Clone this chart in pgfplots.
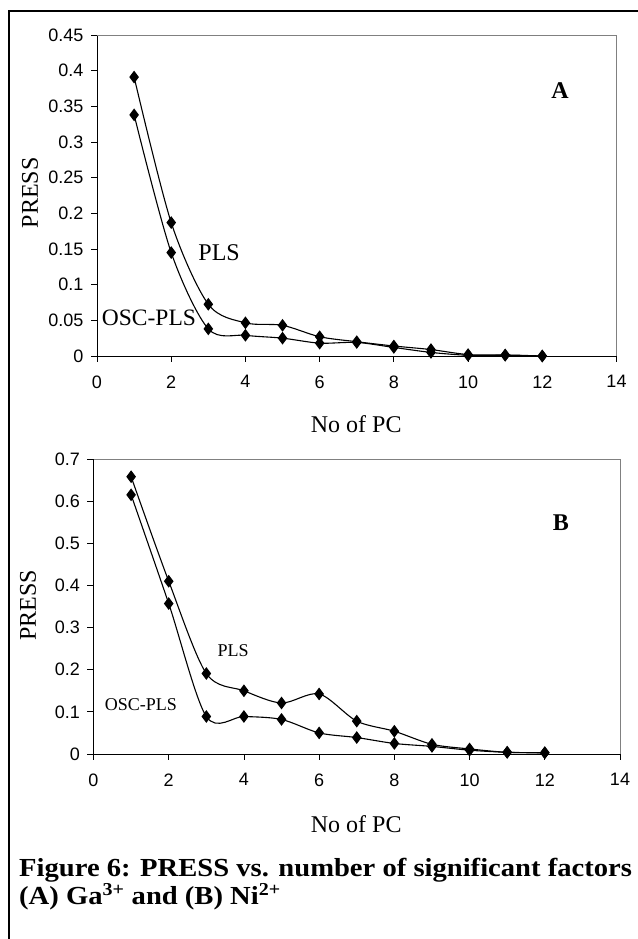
\documentclass[border=0pt]{standalone}
\usepackage{pgfplots}
\pgfplotsset{compat=1.18}
\usepackage{fontspec}
\setmainfont{Liberation Serif}
\newfontfamily\arial{Liberation Sans}
\begin{document}
\begin{tikzpicture}
\path[use as bounding box] (0,0) rectangle (637pt,939pt);
\draw[line width=2pt] (9pt,-2pt) -- (9pt,928pt) -- (640pt,928pt);
\pgfplotsset{
  myaxis/.style={
    scale only axis,
    axis x line*=bottom, axis y line*=left,
    axis line style={black, line width=0.8pt},
    tick align=outside, major tick length=6pt,
    tick style={black, line width=0.8pt},
    xmin=0, xmax=14,
    xtick={0,2,4,6,8,10,12,14},
    xticklabels={0,2,4,6,8,10,12,14},
    ticklabel style={font=\arial\fontsize{18}{18}\selectfont},
    xticklabel style={yshift=-10pt},
    yticklabel style={xshift=-4pt},
    label style={font=\fontsize{24}{24}\selectfont},
    clip=false,
  },
  myplot/.style={black, line width=1.1pt, smooth, tension=0.5, mark=diamond*, mark size=5.5pt, mark options={solid, fill=black}},
}
% ---------- Panel A ----------
\begin{axis}[myaxis,
  at={(97pt,583pt)}, anchor=south west,
  width=519.5pt, height=321pt,
  ymin=0, ymax=0.45,
  ytick={0,0.05,0.1,0.15,0.2,0.25,0.3,0.35,0.4,0.45},
  yticklabels={0,0.05,0.1,0.15,0.2,0.25,0.3,0.35,0.4,0.45},
  xlabel={No of PC}, ylabel={PRESS},
  xlabel style={at={(axis description cs:0.499,-0.212)}, anchor=center},
  ylabel style={at={(axis description cs:-0.129,0.508)}, anchor=center, rotate=0},
]
\draw[gray, line width=0.8pt] (rel axis cs:0,1) -- (rel axis cs:1,1) -- (rel axis cs:1,0);
\addplot[myplot] coordinates {(1,0.391) (2,0.187) (3,0.0725) (4,0.0465) (5,0.043) (6,0.027) (7,0.020) (8,0.014) (9,0.009) (10,0.002) (11,0.0015) (12,0)};
\addplot[myplot] coordinates {(1,0.338) (2,0.145) (3,0.038) (4,0.029) (5,0.025) (6,0.018) (7,0.019) (8,0.012) (9,0.005) (10,0.001) (11,0.001) (12,0)};
\node[font=\bfseries\fontsize{24}{24}\selectfont] at (axis cs:12.48,0.3715) {A};
\node[font=\fontsize{24}{24}\selectfont] at (axis cs:3.29,0.1444) {PLS};
\node[font=\fontsize{23.5}{24}\selectfont] at (axis cs:1.40,0.0533) {OSC-PLS};
\end{axis}
% ---------- Panel B ----------
\begin{axis}[myaxis,
  at={(93.5pt,185pt)}, anchor=south west,
  width=526.5pt, height=295pt,
  ymin=0, ymax=0.7,
  ytick={0,0.1,0.2,0.3,0.4,0.5,0.6,0.7},
  yticklabels={0,0.1,0.2,0.3,0.4,0.5,0.6,0.7},
  xlabel={No of PC}, ylabel={PRESS},
  xlabel style={at={(axis description cs:0.499,-0.237)}, anchor=center},
  ylabel style={at={(axis description cs:-0.1244,0.505)}, anchor=center, rotate=0},
]
\draw[gray, line width=0.8pt] (rel axis cs:0,1) -- (rel axis cs:1,1) -- (rel axis cs:1,0);
\addplot[myplot] coordinates {(1,0.658) (2,0.410) (3,0.191) (4,0.150) (5,0.121) (6,0.1425) (7,0.078) (8,0.054) (9,0.023) (10,0.012) (11,0.004) (12,0.003)};
\addplot[myplot] coordinates {(1,0.615) (2,0.357) (3,0.089) (4,0.089) (5,0.082) (6,0.050) (7,0.039) (8,0.025) (9,0.018) (10,0.009) (11,0.004) (12,0.003)};
\node[font=\bfseries\fontsize{24}{24}\selectfont] at (axis cs:12.43,0.548) {B};
\node[font=\fontsize{18}{18}\selectfont] at (axis cs:3.71,0.2444) {PLS};
\node[font=\fontsize{18}{18}\selectfont] at (axis cs:1.26,0.116) {OSC-PLS};
\end{axis}
% ---------- Caption ----------
\node[anchor=base west, font=\bfseries\fontsize{26}{30}\selectfont, inner sep=0pt] at (19pt,62pt) {\scalebox{1.1}[1]{Figure 6: PRESS vs. number of significant factors}};
\node[anchor=base west, font=\bfseries\fontsize{26}{30}\selectfont, inner sep=0pt] at (19pt,34pt) {\scalebox{1.1}[1]{(A) Ga\textsuperscript{3+} and (B) Ni\textsuperscript{2+}}};
\end{tikzpicture}
\end{document}
